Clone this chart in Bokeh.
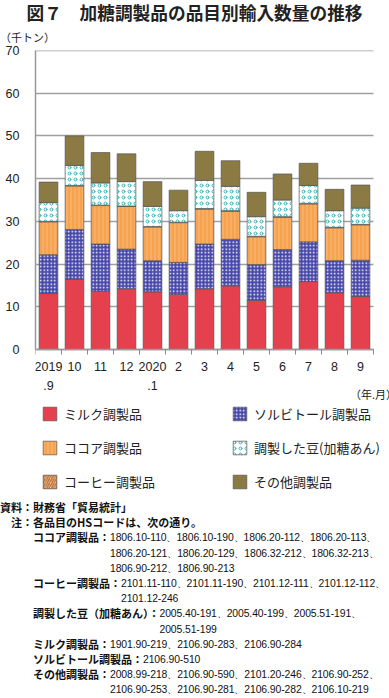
from bokeh.plotting import figure
from bokeh.models import ColumnDataSource, FixedTicker, Legend, LegendItem, Div, LinearAxis
from bokeh.layouts import column
from bokeh.embed import file_html
from bokeh.resources import INLINE

# ---- data (千トン) ----
months = ["2019\n.9", "10", "11", "12", "2020\n.1", "2", "3", "4", "5", "6", "7", "8", "9"]
milk = [13.1, 16.4, 13.6, 14.2, 13.5, 12.9, 14.2, 14.9, 11.5, 14.7, 15.9, 13.3, 12.4]
sorbitol = [9.1, 11.7, 11.1, 9.3, 7.3, 7.5, 10.5, 10.9, 8.4, 8.7, 9.3, 7.5, 8.5]
cocoa = [7.7, 10.2, 9.0, 10.0, 7.9, 9.3, 8.2, 6.6, 6.5, 7.6, 8.9, 7.7, 8.3]
coffee = [0.1, 0.1, 0.1, 0.1, 0.1, 0.1, 0.1, 0.1, 0.1, 0.1, 0.1, 0.1, 0.1]
beans = [4.4, 4.7, 5.2, 5.7, 4.7, 2.7, 6.6, 5.7, 4.6, 3.9, 4.2, 3.9, 3.8]
other = [4.8, 6.9, 7.1, 6.5, 5.8, 4.8, 6.8, 6.0, 5.7, 6.1, 5.2, 5.0, 5.4]
yticks = [0, 10, 20, 30, 40, 50, 60, 70]

series_names = ["ミルク調製品", "ソルビトール調製品", "ココア調製品", "コーヒー調製品", "調製した豆(加糖あん)", "その他調製品"]

title_text = "図７　加糖調製品の品目別輸入数量の推移"
y_unit = "（千トン）"
x_unit = "（年.月）"
notes = [
    ("ココア調製品：", ["1806.10-110、1806.10-190、1806.20-112、1806.20-113、",
                    "1806.20-121、1806.20-129、1806.32-212、1806.32-213、",
                    "1806.90-212、1806.90-213"]),
    ("コーヒー調製品：", ["2101.11-110、2101.11-190、2101.12-111、2101.12-112、",
                      "2101.12-246"]),
    ("調製した豆（加糖あん）：", ["2005.40-191、2005.40-199、2005.51-191、",
                          "2005.51-199"]),
    ("ミルク調製品：", ["1901.90-219、2106.90-283、2106.90-284"]),
    ("ソルビトール調製品：", ["2106.90-510"]),
    ("その他調製品：", ["2008.99-218、2106.90-590、2101.20-246、2106.90-252、",
                    "2106.90-253、2106.90-281、2106.90-282、2106.10-219"]),
]

n = len(months)
centers = [i + 0.5 for i in range(n)]
bounds = [i for i in range(n + 1)]

src = ColumnDataSource(dict(x=centers, milk=milk, sorbitol=sorbitol, cocoa=cocoa,
                            coffee=coffee, beans=beans, other=other))

# frame spans the chart plus the legend area below it and reaches the right edge;
# the axes themselves are bounded to the 13 months and 0..70
p = figure(width=389, height=456, x_range=(0, 13.615), y_range=(-35.35, 70),
           output_backend="svg", toolbar_location=None,
           min_border_left=35, min_border_right=0, min_border_top=6, min_border_bottom=0)
p.outline_line_color = None
p.background_fill_color = "white"
p.border_fill_color = "white"
p.xgrid.visible = False
p.ygrid.visible = False

stackers = ["milk", "sorbitol", "cocoa", "coffee", "beans", "other"]
rs = p.vbar_stack(
    stackers, x="x", width=0.72, source=src,
    fill_color=["#E5404E", "#4848AA", "#F7A24E", "#F4C9A0", "#FFFFFF", "#8C7A45"],
    hatch_pattern=[None, "dot", "vertical_line", "right_diagonal_line", "ring", None],
    hatch_color=["#E5404E", "#FFFFFF", "#F9BB78", "#B5682E", "#3BAFB2", "#8C7A45"],
    hatch_scale=[6, 3.5, 4, 4.5, 6, 6],
    hatch_weight=[1, 1, 1, 1.3, 1, 1],
    line_color="#555555", line_width=0.7,
)

# horizontal grid lines: inward ticks of an unlabeled axis at x=0, drawn beneath the bars,
# so they run over the 13 months only and the 0..70 range only
ga = LinearAxis(ticker=FixedTicker(ticks=yticks), bounds=(0, 70), fixed_location=0,
                level="underlay", axis_line_color=None,
                major_tick_in=338, major_tick_out=0, minor_tick_in=0, minor_tick_out=0,
                major_tick_line_color="#A0A0A0", major_tick_line_width=1.3,
                major_label_overrides={t: "" for t in yticks},
                major_label_text_font_size="0px")
p.add_layout(ga, "left")

ya = p.yaxis[0]
ya.ticker = FixedTicker(ticks=yticks)
ya.bounds = (0, 70)
ya.axis_line_color = "#999999"
ya.axis_line_width = 1.5
ya.major_tick_out = 0
ya.major_tick_in = 0
ya.minor_tick_out = 0
ya.minor_tick_in = 0
ya.major_label_standoff = 16
ya.major_label_text_font = "Liberation Sans"
ya.major_label_text_font_size = "12.5px"
ya.major_label_text_color = "#222222"

xa = p.xaxis[0]
xa.fixed_location = 0
xa.bounds = (0, n)
xa.ticker = FixedTicker(ticks=centers, minor_ticks=bounds)
xa.major_label_overrides = {c: m for c, m in zip(centers, months)}
xa.axis_line_color = "#999999"
xa.axis_line_width = 1.5
xa.major_tick_out = 0
xa.major_tick_in = 0
xa.minor_tick_out = 5
xa.minor_tick_in = 0
xa.minor_tick_line_color = "#888888"
xa.major_label_standoff = 5
xa.major_label_text_font = "Liberation Sans"
xa.major_label_text_font_size = "12.5px"
xa.major_label_text_color = "#222222"
xa.major_label_text_line_height = 1.38
xa.axis_label = x_unit
xa.axis_label_align = "end"
xa.axis_label_standoff = -10
xa.axis_label_text_font = "Noto Sans CJK JP"
xa.axis_label_text_font_size = "11px"
xa.axis_label_text_font_style = "normal"
xa.axis_label_text_color = "#222222"

# legend (inside the extended frame, under the axis)
order = [0, 1, 2, 4, 3, 5]
items = [LegendItem(label=series_names[i], renderers=[rs[i]]) for i in order]
legend = Legend(items=items, location=(6, 9), orientation="horizontal", ncols=2,
                glyph_width=17, glyph_height=17, label_height=17, label_width=152,
                spacing=15, padding=0, margin=0, label_standoff=6,
                border_line_color=None, background_fill_alpha=0,
                label_text_font="Noto Sans CJK JP", label_text_font_size="13px",
                label_text_color="#222222", click_policy="none")
p.add_layout(legend)

title_div = Div(
    text=('<div style="position:relative;width:389px;height:44px;color:#222;white-space:nowrap;">'
          '<div style="position:absolute;left:0;top:0;width:389px;text-align:center;'
          "font-family:'Noto Sans CJK JP';font-weight:bold;font-size:17.7px;line-height:24px;\">"
          f'{title_text}</div>'
          '<div style="position:absolute;left:0;top:30px;'
          "font-family:'Noto Sans CJK JP';font-size:11px;line-height:14px;\">"
          f'{y_unit}</div></div>'),
    width=389, height=44, margin=(0, 0, 0, 0))

code_style = ("font-family:'Liberation Sans',Arial,sans-serif;font-weight:normal;"
              "font-size:10.4px;letter-spacing:-0.1px;")
rows = ['<div>資料：財務省「貿易統計」</div>',
        '<div style="padding-left:11px">注：各品目のHSコードは、次の通り。</div>']
for lab, codes in notes:
    rows.append(f'<div style="display:flex;padding-left:33px"><span>{lab}</span>'
                f'<span style="{code_style}">' + "<br>".join(codes) + '</span></div>')
notes_div = Div(
    text=('<div style="font-family:\'Noto Sans CJK JP\';font-weight:bold;font-size:11px;'
          'line-height:15.2px;color:#111;white-space:nowrap;overflow:hidden;width:389px;height:198px;">'
          + "".join(rows) + '</div>'),
    width=389, height=198, margin=(0, 0, 0, 0))

layout = column(title_div, p, notes_div, spacing=0)
open("out.html", "w").write(file_html(layout, INLINE))
